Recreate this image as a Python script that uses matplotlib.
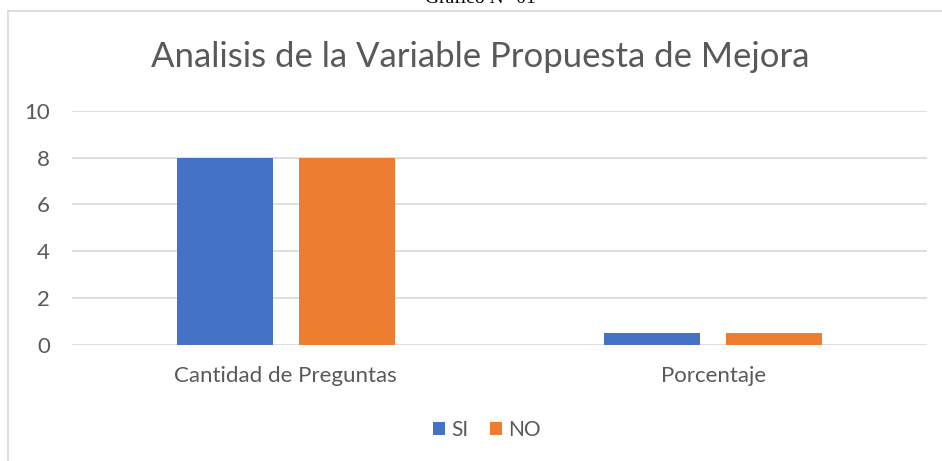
import matplotlib.pyplot as plt
import numpy as np
from matplotlib.lines import Line2D

categories = ["Cantidad de Preguntas", "Porcentaje"]
si_values = [8, 0.5]
no_values = [8, 0.5]
y_ticks = [0, 2, 4, 6, 8, 10]

blue = "#4472C4"
orange = "#ED7D31"
grid_c = "#D9D9D9"
text_c = "#595959"

plt.rcParams['font.family'] = ['Lato', 'DejaVu Sans']

fig = plt.figure(figsize=(9.42, 4.61), dpi=100)
W, H = 942, 461
ax = fig.add_axes([72 / W, 1 - 345 / H, (927 - 72) / W, (345 - 110.7) / H])

x = np.arange(len(categories))
w = 0.224
gap = 0.061
ax.bar(x - (w + gap) / 2, si_values, w, color=blue, label="SI", zorder=3)
ax.bar(x + (w + gap) / 2, no_values, w, color=orange, label="NO", zorder=3)

ax.set_xlim(-0.5, 1.5)
ax.set_ylim(0, 10)
ax.set_yticks(y_ticks)
ax.set_xticks(x)
ax.set_xticklabels(categories)
ax.yaxis.grid(True, color=grid_c, linewidth=1.2, zorder=0)
for s in ax.spines.values():
    s.set_visible(False)
ax.tick_params(axis='both', length=0, labelsize=16, colors=text_c)
ax.tick_params(axis='y', pad=16)
ax.tick_params(axis='x', pad=15)

fig.text(480 / W, 1 - 57 / H, "Analisis de la Variable Propuesta de Mejora",
         ha='center', va='center', fontsize=25, color=text_c)
fig.text(480 / W, 1 - 3 / H, "Gráfico N° 01", ha='center', va='baseline',
         fontsize=14, family='Liberation Serif', color='black')

# chart frame (top and left edges)
fig.add_artist(Line2D([8 / W, 1], [1 - 11.5 / H, 1 - 11.5 / H], color=grid_c, linewidth=1.2))
fig.add_artist(Line2D([8 / W, 8 / W], [0, 1 - 11.5 / H], color=grid_c, linewidth=1.2))

leg = fig.legend(loc='center', bbox_to_anchor=(487 / W, 1 - 430 / H), ncol=2, frameon=False,
                 fontsize=15, handlelength=0.6, handleheight=0.6, handletextpad=0.3,
                 columnspacing=1.0)
for t in leg.get_texts():
    t.set_color(text_c)

fig.savefig("out.png", dpi=100)
